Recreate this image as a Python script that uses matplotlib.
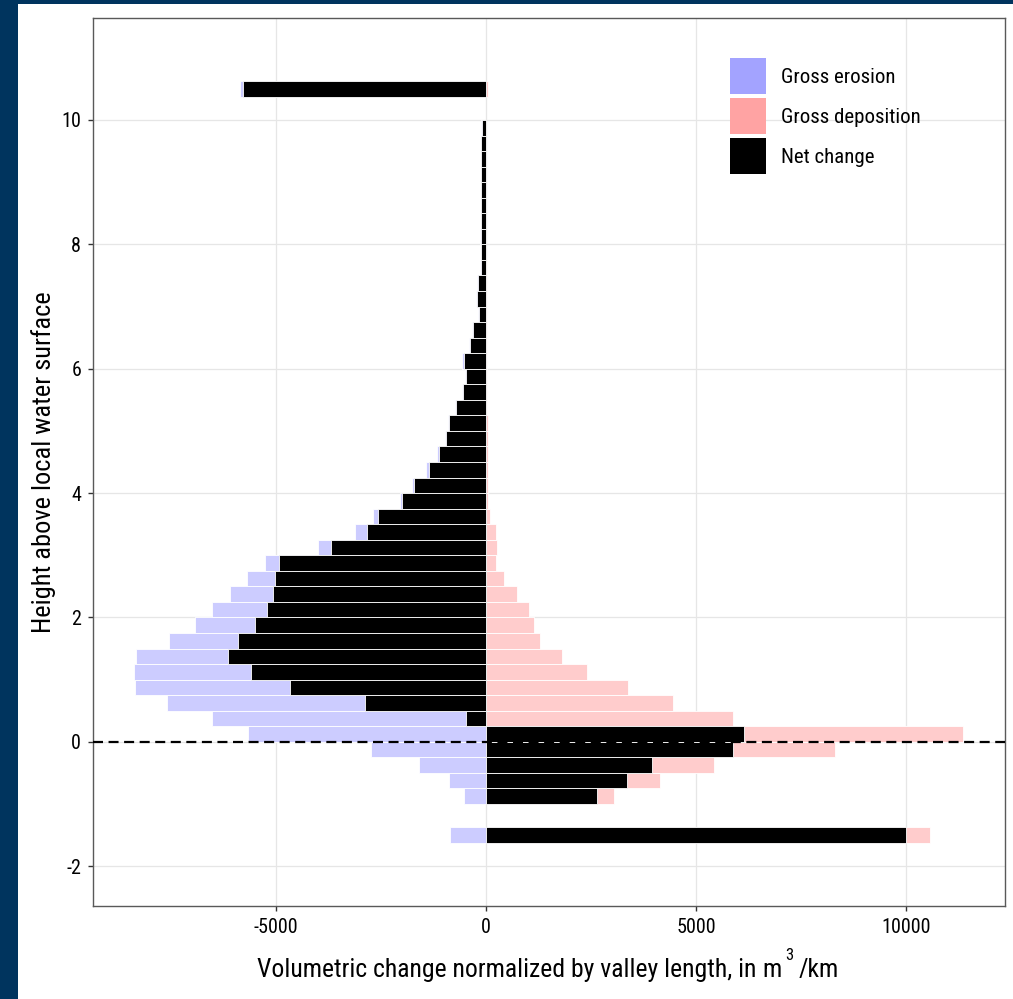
"""
plot.py  —  Gross erosion / deposition and net change by height above water surface.
"""

import matplotlib
matplotlib.use("Agg")
import matplotlib.pyplot as plt
from matplotlib import font_manager
from matplotlib.patches import Patch, Rectangle

# ── data ──────────────────────────────────────────────────────────────────────

heights = [10.5, 9.875, 9.625, 9.375, 9.125, 8.875, 8.625, 8.375, 8.125,
           7.875, 7.625, 7.375, 7.125, 6.875, 6.625, 6.375, 6.125, 5.875,
           5.625, 5.375, 5.125, 4.875, 4.625, 4.375, 4.125, 3.875, 3.625,
           3.375, 3.125, 2.875, 2.625, 2.375, 2.125, 1.875, 1.625, 1.375,
           1.125, 0.875, 0.625, 0.375, 0.125, -0.125, -0.375, -0.625, -0.875,
           -1.5]

gross_erosion = [-5857, -120, -130, -130, -130, -130, -130, -130, -135,
                 -130, -145, -207, -240, -200, -335, -410, -560, -500,
                 -570, -730, -905, -968, -1159, -1429, -1770, -2056, -2683,
                 -3119, -4008, -5262, -5683, -6095, -6532, -6921, -7540, -8333,
                 -8389, -8365, -7603, -6516, -5659, -2740, -1587, -881, -516,
                 -849]

gross_deposition = [40, 0, 0, 0, 0, 0, 0, 0, 0,
                    10, 15, 25, 25, 25, 25, 25, 30, 30,
                    30, 30, 40, 40, 56, 56, 56, 56, 95,
                    238, 254, 250, 437, 730, 1032, 1143, 1294, 1802,
                    2405, 3381, 4460, 5889, 11357, 8310, 5437, 4143, 3048,
                    10571]

net_change = [-5794, -95, -110, -110, -110, -110, -110, -110, -115,
              -111, -127, -183, -222, -175, -317, -389, -516, -476,
              -540, -706, -881, -944, -1111, -1349, -1706, -1992, -2563,
              -2825, -3683, -4921, -5032, -5063, -5206, -5492, -5913, -6151,
              -5587, -4667, -2881, -484, 6151, 5873, 3960, 3349, 2643,
              10000]

x_ticks = [-5000, 0, 5000, 10000]
y_ticks = [-2, 0, 2, 4, 6, 8, 10]
legend_labels = ["Gross erosion", "Gross deposition", "Net change"]
y_label = "Height above local water surface"
# x label is set in pieces so the cube sits high, as in the original
x_label_parts = ["Volumetric change normalized by valley length, in", "m", "3", "/km"]

# ── palette ───────────────────────────────────────────────────────────────────

EROSION_BAR = "#ccccff"
DEPOSITION_BAR = "#ffcccc"
EROSION_KEY = "#a3a3ff"
DEPOSITION_KEY = "#ffa3a3"
NAVY = "#00345e"

W, H = 1013, 999

# ── helpers ───────────────────────────────────────────────────────────────────

def pick_font() -> str:
    names = {f.name for f in font_manager.fontManager.ttflist}
    for cand in ["Liberation Sans Narrow", "Roboto Condensed", "Roboto", "Liberation Sans"]:
        if cand in names:
            return cand
    return "DejaVu Sans"


def draw_xlabel(fig):
    """Lay out 'in m^3/km' by hand: main text, m, raised 3, /km."""
    renderer = fig.canvas.get_renderer()
    sizes = [18.5, 18.5, 12, 18.5]
    gaps = [0, 6, 4, 5]            # px before each piece
    rises = [0, 0, 16.7, 0]        # px above the baseline
    baseline = 976.7               # px from top
    texts, widths = [], []
    for part, size in zip(x_label_parts, sizes):
        t = fig.text(0, 0, part, fontsize=size, ha="left", va="baseline")
        texts.append(t)
        widths.append(t.get_window_extent(renderer).width)
    total = sum(widths) + sum(gaps)
    x = 548 - total / 2
    for t, w, g, r in zip(texts, widths, gaps, rises):
        x += g
        t.set_position((x / W, (H - baseline + r) / H))
        x += w


def main():
    font = pick_font()
    plt.rcParams["font.family"] = [font, "DejaVu Sans"]

    fig = plt.figure(figsize=(W / 100, H / 100), dpi=100)
    fig.patch.set_facecolor("white")
    # navy frame: left strip and thin top band
    fig.patches.append(Rectangle((0, 0), 18 / W, 1, transform=fig.transFigure,
                                 facecolor=NAVY, edgecolor="none", zorder=-5))
    fig.patches.append(Rectangle((0, 1 - 4 / H), 1, 4 / H, transform=fig.transFigure,
                                 facecolor=NAVY, edgecolor="none", zorder=-5))

    ax = fig.add_axes([93 / W, 1 - 906 / H, (1005 - 93) / W, (906 - 18) / H])
    ax.set_facecolor("white")

    bar_kw = dict(height=0.25, edgecolor="white", linewidth=0.6)
    ax.barh(heights, gross_erosion, color=EROSION_BAR, zorder=2, **bar_kw)
    ax.barh(heights, gross_deposition, color=DEPOSITION_BAR, zorder=2, **bar_kw)
    ax.barh(heights, net_change, color="black", zorder=3, **bar_kw)

    ax.axhline(0, color="black", linewidth=1.6, linestyle=(0, (4.5, 2.5)), zorder=4)

    ax.set_xlim(-9357, 12357)
    ax.set_ylim(-2.64, 11.64)
    ax.set_xticks(x_ticks)
    ax.set_xticklabels([str(v) for v in x_ticks])
    ax.set_yticks(y_ticks)
    ax.set_yticklabels([str(v) for v in y_ticks])

    ax.grid(True, color="#e6e6e6", linewidth=0.9, zorder=0)
    ax.set_axisbelow(True)
    for spine in ax.spines.values():
        spine.set_color("#595959")
        spine.set_linewidth(1.0)

    ax.tick_params(axis="both", length=3.5, width=1.0, color="#333333",
                   labelsize=14.5, labelcolor="black", pad=5)

    ax.set_ylabel(y_label, fontsize=19, labelpad=4)
    draw_xlabel(fig)

    handles = [Patch(facecolor=EROSION_KEY, edgecolor="none"),
               Patch(facecolor=DEPOSITION_KEY, edgecolor="none"),
               Patch(facecolor="black", edgecolor="none")]
    ax.legend(handles, legend_labels, loc="upper left",
              bbox_to_anchor=(730 / W, 1 - 58 / H), bbox_transform=fig.transFigure,
              frameon=False, fontsize=15, handlelength=1.75, handleheight=2.29,
              labelspacing=0.19, handletextpad=0.7, borderpad=0, borderaxespad=0)

    fig.savefig("out.png", dpi=100)


if __name__ == "__main__":
    main()
